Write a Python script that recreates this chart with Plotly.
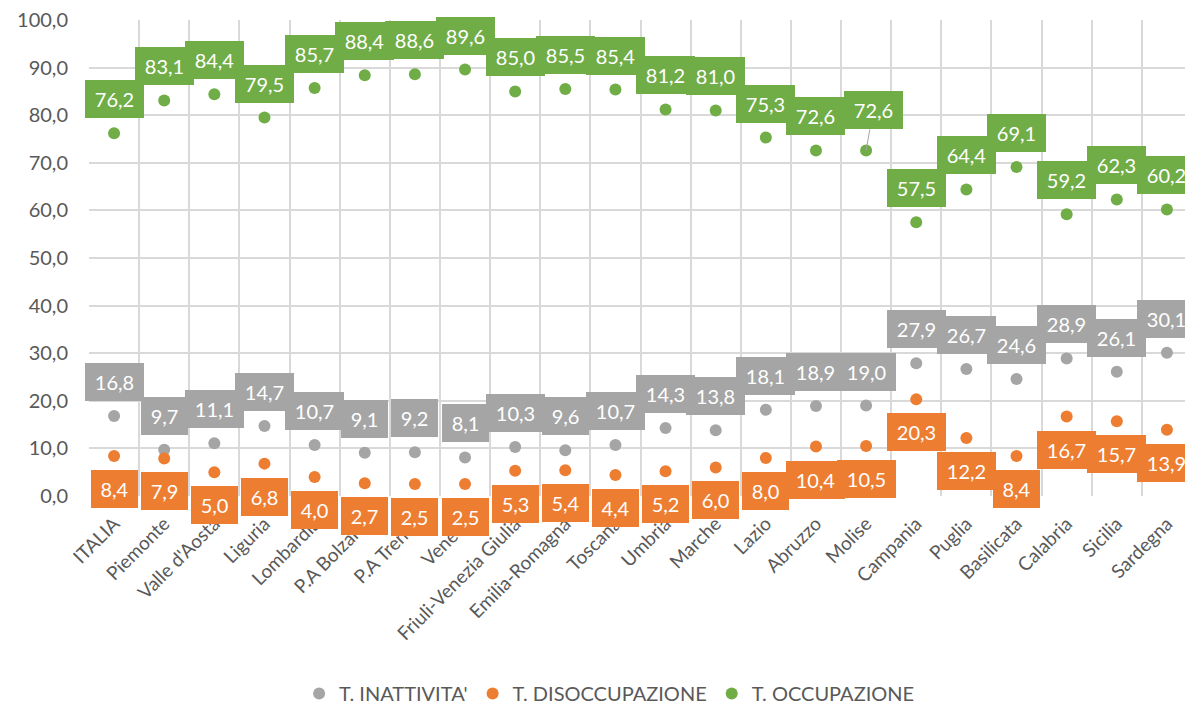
import plotly.graph_objects as go

categories = ["ITALIA", "Piemonte", "Valle d'Aosta", "Liguria", "Lombardia", "P.A Bolzano",
              "P.A Trento", "Veneto", "Friuli-Venezia Giulia", "Emilia-Romagna", "Toscana",
              "Umbria", "Marche", "Lazio", "Abruzzo", "Molise", "Campania", "Puglia",
              "Basilicata", "Calabria", "Sicilia", "Sardegna"]
inattivita = [16.8, 9.7, 11.1, 14.7, 10.7, 9.1, 9.2, 8.1, 10.3, 9.6, 10.7, 14.3, 13.8,
              18.1, 18.9, 19.0, 27.9, 26.7, 24.6, 28.9, 26.1, 30.1]
disoccupazione = [8.4, 7.9, 5.0, 6.8, 4.0, 2.7, 2.5, 2.5, 5.3, 5.4, 4.4, 5.2, 6.0,
                  8.0, 10.4, 10.5, 20.3, 12.2, 8.4, 16.7, 15.7, 13.9]
occupazione = [76.2, 83.1, 84.4, 79.5, 85.7, 88.4, 88.6, 89.6, 85.0, 85.5, 85.4, 81.2, 81.0,
               75.3, 72.6, 72.6, 57.5, 64.4, 69.1, 59.2, 62.3, 60.2]

series = [
    ("T. INATTIVITA'", inattivita, "#A5A5A5", 34),
    ("T. DISOCCUPAZIONE", disoccupazione, "#ED7D31", -33),
    ("T. OCCUPAZIONE", occupazione, "#70AD47", 34),
]

FONT = "Lato"
fig = go.Figure()
annotations = []
for name, vals, color, shift in series:
    fig.add_trace(go.Scatter(
        x=categories, y=vals, mode="markers", name=name,
        marker=dict(color=color, size=12),
        cliponaxis=False,
    ))
    for i, (c, v) in enumerate(zip(categories, vals)):
        txt = f"{v:.1f}".replace(".", ",")
        w = 33 if len(txt) <= 3 else 45
        ann = dict(x=c, y=v, xref="x", yref="y", text=txt,
                   font=dict(family=FONT, size=20, color="white"),
                   bgcolor=color, borderpad=7, borderwidth=0,
                   width=w, height=24, align="center", valign="middle")
        if name == "T. OCCUPAZIONE" and c == "Molise":
            ann.update(showarrow=True, ax=7, ay=-40, arrowhead=0,
                       arrowwidth=1, arrowcolor="#A5A5A5")
        else:
            ann.update(showarrow=False, yshift=shift)
        annotations.append(ann)

# the page body adds an 8px offset, so the figure is sized to the remaining area
fig.update_layout(
    width=1185, height=698,
    margin=dict(l=81, r=1, t=12, b=210, autoexpand=False),
    paper_bgcolor="white", plot_bgcolor="white",
    separators=",.",
    font=dict(family=FONT, color="#595959"),
    annotations=annotations,
    showlegend=True,
    legend=dict(orientation="h", x=0.472, xanchor="center", yref="paper",
                y=-0.415, yanchor="middle", font=dict(size=20, color="#595959"),
                itemwidth=30, tracegroupgap=0),
    xaxis=dict(type="category", range=[-0.5, 21.5], tickson="boundaries",
               showgrid=True, gridcolor="#D9D9D9", gridwidth=1.5,
               tickangle=-45, tickfont=dict(size=19, color="#595959"),
               ticks="", ticklabelstandoff=12, showline=False, zeroline=False,
               automargin=False),
    yaxis=dict(range=[0, 100], dtick=10, tickformat=".1f",
               showgrid=True, gridcolor="#D9D9D9", gridwidth=1.5,
               tickfont=dict(size=20, color="#595959"), ticks="",
               ticklabelstandoff=20, ticklabeloverflow="allow",
               showline=False, zeroline=False, automargin=False),
)

fig.write_html("out.html")
